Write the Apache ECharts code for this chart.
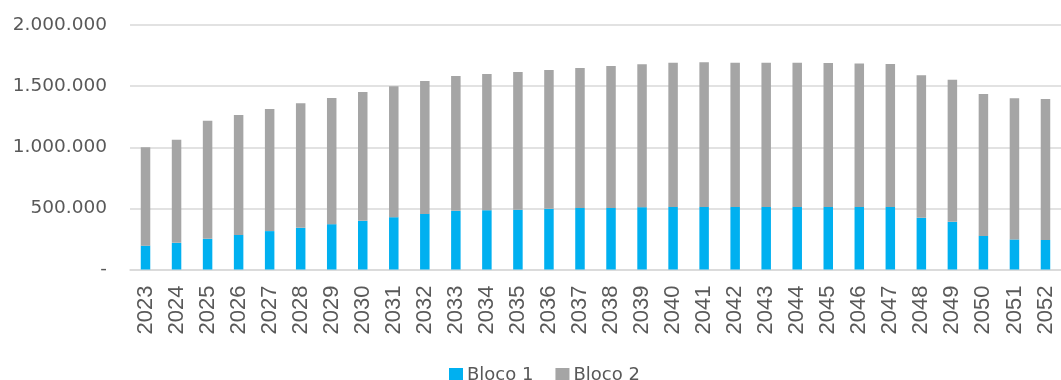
<!DOCTYPE html>
<html>
<head>
<meta charset="utf-8">
<script src="https://cdn.jsdelivr.net/npm/echarts@6/dist/echarts.min.js"></script>
<style>
  html, body { margin: 0; padding: 0; background: #fff; }
  #chart { width: 1061px; height: 380px; }
</style>
</head>
<body>
<div id="chart"></div>
<script>
// anos
var years = ['2023', '2024', '2025', '2026', '2027', '2028', '2029', '2030', '2031', '2032',
  '2033', '2034', '2035', '2036', '2037', '2038', '2039', '2040', '2041', '2042',
  '2043', '2044', '2045', '2046', '2047', '2048', '2049', '2050', '2051', '2052']

var bloco1 = [195000, 218000, 251000, 283000, 314000, 341000, 371000, 398000, 428000, 455000,
  480000, 485000, 488000, 496000, 504000, 504000, 510000, 512000, 512000, 512000,
  512000, 512000, 512000, 512000, 512000, 423000, 390000, 275000, 246000, 242000]

var bloco2 = [805000, 843000, 966000, 980000, 998000, 1018000, 1031000, 1053000, 1070000, 1086000,
  1102000, 1114000, 1127000, 1136000, 1144000, 1160000, 1168000, 1179000, 1183000, 1179000,
  1179000, 1179000, 1177000, 1174000, 1169000, 1165000, 1162000, 1160000, 1154000, 1152000]

var yTicks = [0, 500000, 1000000, 1500000, 2000000]

function fmt(v) {
  if (v === 0) return '-'
  return String(v).replace(/\B(?=(\d{3})+(?!\d))/g, '.')
}

var chart = echarts.init(document.getElementById('chart'))
var option = {
  animation: false,
  textStyle: { color: '#595959' },
  grid: { left: 130, top: 25, width: 934, bottom: 110.5 },
  legend: {
    left: 449,
    top: 366,
    padding: 0,
    itemWidth: 14,
    itemHeight: 14,
    itemGap: 22,
    icon: 'rect',
    textStyle: { fontFamily: 'DejaVu Sans', fontSize: 18, color: '#595959', padding: [0, 0, 0, -1] },
    data: ['Bloco 1', 'Bloco 2']
  },
  xAxis: {
    type: 'category',
    data: years,
    axisLine: { lineStyle: { color: '#d9d9d9', width: 1.5 } },
    axisTick: { show: false },
    axisLabel: {
      rotate: 90,
      margin: 16,
      fontFamily: 'Liberation Sans',
      fontSize: 22,
      color: '#595959'
    }
  },
  yAxis: {
    type: 'value',
    min: yTicks[0],
    max: yTicks[yTicks.length - 1],
    interval: 500000,
    axisLine: { show: false },
    axisTick: { show: false },
    splitLine: { lineStyle: { color: '#d9d9d9', width: 1.5 } },
    axisLabel: {
      margin: 23,
      fontFamily: 'DejaVu Sans',
      fontSize: 18.5,
      color: '#595959',
      formatter: fmt
    }
  },
  series: [
    {
      name: 'Bloco 1',
      type: 'bar',
      stack: 'total',
      barWidth: 9.5,
      itemStyle: { color: '#00B0F0' },
      data: bloco1
    },
    {
      name: 'Bloco 2',
      type: 'bar',
      stack: 'total',
      barWidth: 9.5,
      itemStyle: { color: '#A5A5A5' },
      data: bloco2
    }
  ]
}
chart.setOption(option)
</script>
</body>
</html>
